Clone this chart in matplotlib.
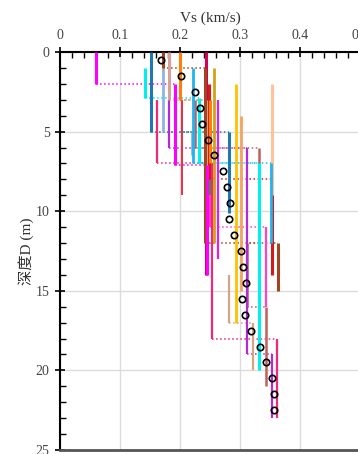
import matplotlib
matplotlib.use("Agg")
import matplotlib.pyplot as plt
import matplotlib.ticker as ticker

# ---- data: layered Vs profiles (velocity per layer, layer boundaries in m) ----
a_vs = [0.06, 0.192, 0.245]
a_z = [0, 2, 7.1, 14]
b_vs = [0.152, 0.282]
b_z = [0, 5, 10.1]
c_vs = [0.172, 0.242, 0.363]
c_z = [0, 1, 12, 15]
d_vs = [0.182, 0.243]
d_z = [0, 3, 11.2]
e_vs = [0.2, 0.25]
e_z = [0, 3, 7]
f_vs = [0.243]
f_z = [0, 14]
g_vs = [0.222, 0.351]
g_z = [1, 7, 12]
h_vs = [0.142, 0.232, 0.332]
h_z = [1, 2.9, 7, 20]
i_vs = [0.256]
i_z = [1, 12]
j_vs = [0.293]
j_z = [2, 17]
k_vs = [0.302]
k_z = [4, 15]
l_vs = [0.354]
l_z = [2, 9]
m_vs = [0.249, 0.354]
m_z = [2, 8, 14]
n_vs = [0.161, 0.253, 0.362]
n_z = [3, 7, 18, 23]
o_vs = [0.203]
o_z = [3, 9]
p_vs = [0.171, 0.22]
p_z = [1, 5, 6.5]
q_vs = [0.181, 0.312, 0.353]
q_z = [3, 6, 19, 23]
r_vs = [0.225, 0.332, 0.312, 0.343]
r_z = [3, 6, 12, 16, 21]
s_vs = [0.282, 0.322]
s_z = [14, 17, 20]
t_vs = [0.25, 0.343]
t_z = [3, 11, 16]
v_vs = [0.203, 0.25]
v_z = [3, 5, 9]
x_vs = [0.263]
x_z = [3, 13]

# averaged profile (circles)
avg_depth = [0.5, 1.5, 2.5, 3.5, 4.5, 5.5, 6.5, 7.5, 8.5, 9.5, 10.5, 11.5,
             12.5, 13.5, 14.5, 15.5, 16.5, 17.5, 18.5, 19.5, 20.5, 21.5, 22.5]
avg_vs = [0.168, 0.202, 0.225, 0.233, 0.236, 0.246, 0.256, 0.272, 0.279, 0.284,
          0.282, 0.29, 0.301, 0.305, 0.31, 0.303, 0.308, 0.318, 0.334, 0.343,
          0.353, 0.357, 0.357]

x_ticks = [0, 0.1, 0.2, 0.3, 0.4, 0.5]
x_labels = ['0', '0.1', '0.2', '0.3', '0.4', '0.5']
y_ticks = [0, 5, 10, 15, 20, 25]

profiles = [
    (x_vs, x_z, '#e020e0', 1.6),
    (t_vs, t_z, '#ff40c8', 1.6),
    (r_vs, r_z, '#c0605e', 1.8),
    (q_vs, q_z, '#b52ad6', 1.6),
    (s_vs, s_z, '#d4a484', 1.6),
    (v_vs, v_z, '#2ca02c', 1.4),
    (o_vs, o_z, '#e8304a', 1.4),
    (p_vs, p_z, '#8eb4e3', 2.0),
    (n_vs, n_z, '#f0287a', 1.6),
    (m_vs, m_z, '#d61a1a', 2.2),
    (l_vs, l_z, '#ffc39b', 2.2),
    (k_vs, k_z, '#f4a460', 2.0),
    (j_vs, j_z, '#ffc000', 2.0),
    (i_vs, i_z, '#d4a017', 2.0),
    (h_vs, h_z, '#00f0f0', 2.2),
    (g_vs, g_z, '#1eb4f0', 2.0),
    (f_vs, f_z, '#d4005a', 2.2),
    (e_vs, e_z, '#ff7f0e', 2.2),
    (d_vs, d_z, '#d9a099', 2.2),
    (c_vs, c_z, '#a0461e', 2.2),
    (b_vs, b_z, '#1f77b4', 2.2),
    (a_vs, a_z, '#ff00ff', 2.2),
]

fig = plt.figure(figsize=(3.58, 4.54), dpi=100)
ax = fig.add_axes([60 / 358, 4 / 454, 300 / 358, 398 / 454])

for vs, z, col, lw in profiles:
    for k in range(len(vs)):
        ax.plot([vs[k], vs[k]], [z[k], z[k + 1]], color=col, lw=lw,
                solid_capstyle='butt', zorder=3)
        if k + 1 < len(vs):
            ax.plot([vs[k], vs[k + 1]], [z[k + 1], z[k + 1]], color=col,
                    lw=1.1, ls=':', zorder=2)

ax.plot(avg_vs, avg_depth, 'o', ms=4.6, mfc='none', mec='black', mew=1.2,
        zorder=5)

ax.set_xlim(0, 0.5)
ax.set_ylim(25, 0)
ax.xaxis.tick_top()
ax.xaxis.set_label_position('top')
ax.set_xticks(x_ticks)
ax.set_xticklabels(x_labels)
ax.set_yticks(y_ticks)
ax.xaxis.set_minor_locator(ticker.MultipleLocator(0.02))
ax.yaxis.set_minor_locator(ticker.MultipleLocator(1))
ax.grid(True, which='major', color='#dcdcdc', lw=1)
ax.set_axisbelow(True)

serif = ['Liberation Serif', 'Noto Sans CJK SC']
ax.tick_params(which='major', direction='inout', length=7, width=1.2,
               labelsize=10, pad=4)
ax.tick_params(which='minor', direction='in', length=4, width=1)
for lab in ax.get_xticklabels() + ax.get_yticklabels():
    lab.set_family(serif)
    lab.set_color('#444444')

ax.set_xlabel('Vs (km/s)', family=serif, fontsize=11, labelpad=5,
              color='#333333')
ax.set_ylabel('深度D (m)', family=serif, fontsize=11, labelpad=1,
              color='#333333')

ax.spines['top'].set_linewidth(1.5)
ax.spines['left'].set_linewidth(1.5)
ax.spines['bottom'].set_color('#555555')
ax.spines['bottom'].set_linewidth(2)
ax.spines['right'].set_visible(False)

fig.savefig('out.png', dpi=100)
